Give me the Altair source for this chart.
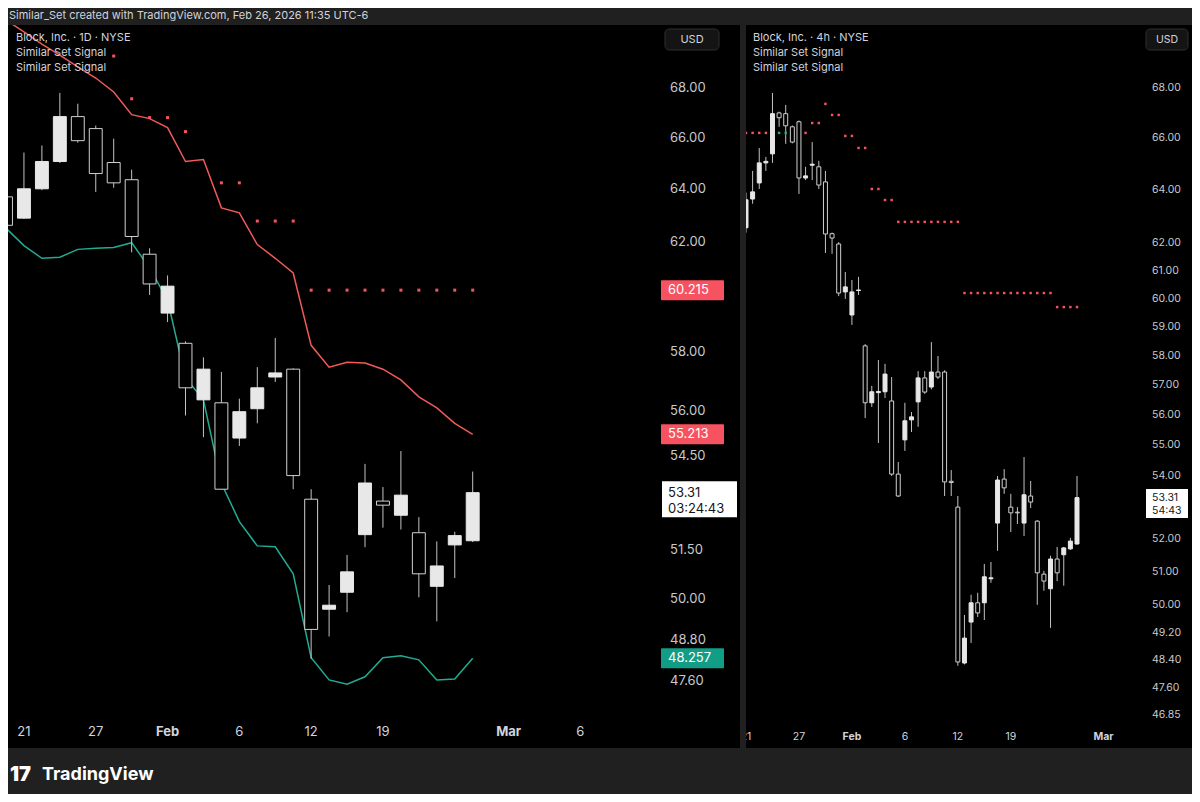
import math
import pandas as pd
import altair as alt

# ---------------- daily (1D) panel data : Jan 20 .. Feb 26 ----------------
d_open  = [63.69, 62.88, 64.00, 65.06, 66.84, 66.36, 65.02, 64.35, 61.53, 59.39,
           58.32, 56.37, 56.27, 55.09, 56.07, 57.15, 57.42, 53.10, 49.70, 50.21,
           51.98, 53.04, 52.59, 52.04, 50.39, 51.66, 51.79]
d_high  = [64.00, 65.41, 65.69, 67.80, 67.36, 66.48, 65.96, 64.74, 61.75, 60.75,
           58.39, 57.83, 57.32, 56.41, 57.49, 58.51, 57.45, 53.42, 50.43, 51.35,
           54.24, 53.49, 54.66, 52.53, 51.77, 52.07, 53.99]
d_low   = [62.45, 62.85, 63.95, 65.00, 65.80, 63.88, 64.04, 61.60, 60.04, 59.07,
           55.84, 55.12, 53.40, 54.83, 55.58, 56.98, 53.42, 48.24, 48.89, 49.61,
           51.59, 52.20, 52.14, 50.06, 49.34, 50.64, 51.75]
d_close = [62.61, 64.00, 65.06, 66.84, 65.88, 64.59, 64.23, 62.19, 60.44, 60.36,
           56.78, 57.42, 53.42, 55.97, 56.78, 57.29, 53.86, 49.10, 49.82, 50.83,
           53.62, 52.91, 53.23, 50.77, 51.01, 51.95, 53.31]
d_upper = [70.84, 70.33, 69.82, 69.36, 68.87, 68.41, 67.84, 66.92, 66.76, 66.40,
           65.06, 65.14, 63.27, 63.08, 61.89, 61.38, 60.84, 58.25, 57.49, 57.66,
           57.63, 57.42, 57.05, 56.47, 56.10, 55.58, 55.213]
d_lower = [62.50, 61.85, 61.38, 61.42, 61.71, 61.75, 61.78, 61.96, 61.02, 59.86,
           57.12, 56.37, 53.61, 52.39, 51.63, 51.60, 50.77, 48.27, 47.63, 47.51,
           47.72, 48.27, 48.33, 48.21, 47.63, 47.66, 48.257]
d_sig_idx = [6, 7, 8, 9, 10, 12, 13, 14, 15, 16,
             17, 18, 19, 20, 21, 22, 23, 24, 25, 26]
d_sig_val = [69.32, 67.56, 66.80, 66.80, 66.24, 64.23, 64.23, 62.77, 62.77, 62.77,
             60.215, 60.215, 60.215, 60.215, 60.215, 60.215, 60.215, 60.215, 60.215, 60.215]

# ---------------- 4h panel data : Jan 21 AM .. Feb 26 AM ----------------
h_open  = [62.58, 63.66, 64.27, 65.04, 65.39, 67.00, 66.97, 66.45, 66.65, 64.46,
           64.95, 64.89, 64.31, 62.36, 61.98, 60.24, 59.42, 60.29, 58.34, 56.40,
           56.74, 56.77, 56.46, 54.06, 55.17, 55.83, 56.43, 57.24, 56.93, 57.44,
           57.44, 53.83, 53.01, 48.32, 49.51, 50.08, 50.08, 50.80, 52.51, 53.90,
           53.01, 52.85, 52.51, 53.36, 52.57, 50.94, 50.50, 51.40, 51.53, 51.71, 51.86]
h_high  = [63.90, 64.73, 65.62, 65.27, 67.80, 67.05, 67.32, 66.50, 66.70, 64.89,
           65.85, 65.12, 64.73, 62.40, 62.05, 60.96, 60.67, 60.78, 58.40, 56.97,
           57.85, 57.72, 57.27, 54.45, 56.40, 56.09, 57.47, 57.47, 58.47, 57.99,
           57.50, 54.19, 53.36, 49.72, 50.32, 50.38, 51.25, 51.31, 54.00, 54.22,
           53.43, 53.01, 54.61, 53.84, 52.60, 51.04, 51.50, 51.77, 51.77, 52.05, 54.00]
h_low   = [62.40, 63.48, 64.04, 64.73, 65.04, 66.45, 65.78, 65.80, 63.85, 64.38,
           64.38, 64.04, 61.65, 61.62, 60.09, 59.99, 59.07, 60.13, 55.89, 56.26,
           55.07, 56.56, 54.00, 53.33, 54.81, 55.43, 55.60, 56.70, 56.85, 57.20,
           53.36, 53.36, 48.24, 48.28, 48.90, 49.66, 49.57, 50.68, 51.65, 53.43,
           52.23, 52.48, 52.11, 52.98, 50.02, 50.44, 49.34, 50.73, 50.59, 51.68, 51.84]
h_close = [63.63, 63.93, 65.04, 65.10, 66.97, 66.81, 66.49, 65.85, 64.46, 64.54,
           64.99, 64.19, 62.35, 62.20, 60.20, 60.42, 60.24, 60.31, 56.40, 56.77,
           56.78, 57.37, 54.06, 53.36, 55.80, 55.93, 57.24, 56.76, 57.44, 57.27,
           53.81, 53.79, 48.35, 49.04, 50.08, 49.78, 50.86, 50.83, 53.87, 53.62,
           52.83, 52.83, 53.40, 53.17, 50.98, 50.73, 51.40, 50.98, 51.74, 51.95, 53.31]
h_sig_red_idx = [0, 1, 2, 3, 9, 10, 11, 12, 13, 14, 15, 16, 17, 18, 19, 20, 21, 22,
                 23, 24, 25, 26, 27, 28, 29, 30, 31, 32,
                 33, 34, 35, 36, 37, 38, 39, 40, 41, 42, 43, 44, 45, 46,
                 47, 48, 49, 50]
h_sig_red_val = [66.21, 66.21, 66.21, 66.21, 66.21, 66.60, 66.60, 67.36, 66.92, 66.92,
                 66.09, 66.09, 65.62, 65.62, 64.04, 64.04, 63.62, 63.62,
                 62.80, 62.80, 62.80, 62.80, 62.80, 62.80, 62.80, 62.80, 62.80, 62.80,
                 60.20, 60.20, 60.20, 60.20, 60.20, 60.20, 60.20, 60.20, 60.20, 60.20,
                 60.20, 60.20, 60.20, 60.20,
                 59.70, 59.70, 59.70, 59.70]
h_sig_green_idx = [5, 6]
h_sig_green_val = [66.21, 66.21]

# ---------------- axis labels ----------------
l_ticks = [68.00, 66.00, 64.00, 62.00, 60.00, 58.00, 56.00, 54.50, 51.50, 50.00, 48.80, 47.60]
r_ticks = [68.00, 66.00, 64.00, 62.00, 61.00, 60.00, 59.00, 58.00, 57.00, 56.00,
           55.00, 54.00, 52.00, 51.00, 50.00, 49.20, 48.40, 47.60, 46.85]
l_time_idx = [1, 5, 9, 13, 17, 21, 28, 32]
l_time_lab = ["21", "27", "Feb", "6", "12", "19", "Mar", "6"]
l_time_bold = [False, False, True, False, False, False, True, False]
r_time_idx = [0, 8, 16, 24, 32, 40, 54]
r_time_lab = ["21", "27", "Feb", "6", "12", "19", "Mar"]
r_time_bold = [False, False, True, False, False, False, True]

# price tags: value, text, colour
l_tags_val = [60.215, 55.213, 48.257]
l_tags_col = ["#f7525f", "#f7525f", "#129e86"]
last_price = 53.31
l_countdown = "03:24:43"
r_countdown = "54:43"

# ---------------- layout helpers ----------------
OFF = 8  # page margin
FONT = "Inter"
TXT = "#d1d4dc"
AX = "#c9c9c9"
RED = "#f7525f"
GREEN = "#22ab94"
UPF = "#e8e8e8"
DNS = "#d0d0d0"
WICK = "#c2c2c2"
BG = "#202020"


def px(v):
    return v - OFF


L_PX_PER = 17.95
R_PX_PER = 6.62
LX = alt.Scale(domain=[0, 36], range=[px(6), px(6 + L_PX_PER * 36)], nice=False, zero=False)
LY = alt.Scale(type="log", domain=[47.6, 68], range=[px(681), px(88)], nice=False)
RX = alt.Scale(domain=[0, 60], range=[px(746), px(746 + R_PX_PER * 60)], nice=False, zero=False)
RY = alt.Scale(type="log", domain=[46.85, 68], range=[px(715), px(88)], nice=False)
KL = (681 - 88) / math.log(68 / 47.6)
KR = (715 - 88) / math.log(68 / 46.85)

one = pd.DataFrame({"a": [0]})


def box(x1, x2, y1, y2, color, **kw):
    return alt.Chart(one).mark_rect(color=color, **kw).encode(
        x=alt.value(px(x1)), x2=alt.value(px(x2)),
        y=alt.value(px(y1)), y2=alt.value(px(y2)))


def label(x, y, text, size, color=TXT, weight="normal", align="left"):
    return alt.Chart(one).mark_text(
        align=align, baseline="middle", font=FONT, fontSize=size,
        color=color, fontWeight=weight).encode(
        x=alt.value(px(x)), y=alt.value(px(y)), text=alt.value(text))


def candles(o, h, l, c, xs, ys, half):
    df = pd.DataFrame({"i": list(range(len(o))), "open": o, "high": h, "low": l, "close": c})
    base = alt.Chart(df)
    wick = base.mark_rule(color=WICK, strokeWidth=1).encode(
        x=alt.X("i:Q", scale=xs, axis=None),
        y=alt.Y("low:Q", scale=ys, axis=None),
        y2="high:Q")
    body = base.transform_calculate(
        x1=f"datum.i - {half}", x2=f"datum.i + {half}",
        top="max(datum.open, datum.close)", bot="min(datum.open, datum.close)",
        dir="datum.close >= datum.open ? 'up' : 'down'",
    ).mark_rect(strokeWidth=1).encode(
        x=alt.X("x1:Q", scale=xs, axis=None), x2="x2:Q",
        y=alt.Y("bot:Q", scale=ys, axis=None), y2="top:Q",
        fill=alt.Fill("dir:N", scale=alt.Scale(domain=["up", "down"], range=[UPF, "#000000"]), legend=None),
        stroke=alt.Stroke("dir:N", scale=alt.Scale(domain=["up", "down"], range=[UPF, DNS]), legend=None))
    return [wick, body]


def line(vals, xs, ys, color):
    df = pd.DataFrame({"i": list(range(len(vals))), "v": vals})
    return alt.Chart(df).mark_line(color=color, strokeWidth=1.5).encode(
        x=alt.X("i:Q", scale=xs, axis=None), y=alt.Y("v:Q", scale=ys, axis=None))


def dots(idx, vals, xs, ys, color, size):
    df = pd.DataFrame({"i": idx, "v": vals})
    return alt.Chart(df).mark_square(color=color, size=size, opacity=1).encode(
        x=alt.X("i:Q", scale=xs, axis=None), y=alt.Y("v:Q", scale=ys, axis=None))


def price_axis(ticks, ys, x, size):
    df = pd.DataFrame({"v": ticks, "t": [f"{t:.2f}" for t in ticks]})
    return alt.Chart(df).mark_text(align="left", baseline="middle", font=FONT,
                                   fontSize=size, color=AX).encode(
        x=alt.value(px(x)), y=alt.Y("v:Q", scale=ys, axis=None), text="t:N")


def time_axis(idx, labs, bold, xs, y, size):
    df = pd.DataFrame({"i": idx, "t": labs, "b": ["bold" if b else "normal" for b in bold]})
    out = []
    for w in ["normal", "bold"]:
        out.append(alt.Chart(df).transform_filter(f"datum.b == '{w}'").mark_text(
            align="center", baseline="middle", font=FONT, fontSize=size, color=TXT,
            fontWeight=w).encode(
            x=alt.X("i:Q", scale=xs, axis=None), y=alt.value(px(y)), text="t:N"))
    return out


def tag(vals, cols, ys, K, x1, x2, up, down):
    df = pd.DataFrame({"v": vals, "c": cols, "t": [f"{v:.3f}" for v in vals]})
    r = alt.Chart(df).transform_calculate(
        top=f"datum.v * exp({up}/{K})", bot=f"datum.v * exp(-{down}/{K})"
    ).mark_rect(cornerRadius=1).encode(
        x=alt.value(px(x1)), x2=alt.value(px(x2)),
        y=alt.Y("bot:Q", scale=ys, axis=None), y2="top:Q",
        fill=alt.Fill("c:N", scale=None))
    t = alt.Chart(df).mark_text(align="left", baseline="middle", font=FONT, fontSize=13,
                                color="#ffffff").encode(
        x=alt.value(px(x1 + 7)), y=alt.Y("v:Q", scale=ys, axis=None), text="t:N")
    return [r, t]


def last_tag(val, ys, K, x1, x2, up, down, size, cd, dy2):
    df = pd.DataFrame({"v": [val], "t": [f"{val:.2f}"], "cd": [cd]})
    r = alt.Chart(df).transform_calculate(
        top=f"datum.v * exp({up}/{K})", bot=f"datum.v * exp(-{down}/{K})"
    ).mark_rect(color="#ffffff").encode(
        x=alt.value(px(x1)), x2=alt.value(px(x2)),
        y=alt.Y("bot:Q", scale=ys, axis=None), y2="top:Q")
    t1 = alt.Chart(df).mark_text(align="left", baseline="middle", font=FONT, fontSize=size,
                                 color="#131722").encode(
        x=alt.value(px(x1 + 6)), y=alt.Y("v:Q", scale=ys, axis=None), text="t:N")
    t2 = alt.Chart(df).mark_text(align="left", baseline="middle", font=FONT, fontSize=size,
                                 color="#131722", dy=dy2).encode(
        x=alt.value(px(x1 + 6)), y=alt.Y("v:Q", scale=ys, axis=None), text="cd:N")
    return [r, t1, t2]


layers = []
# panel backgrounds
layers.append(box(0, 740, 25, 748, "#000000"))
layers.append(box(746, 1192, 25, 748, "#000000"))

# left (1D) panel
layers.append(line(d_lower, LX, LY, GREEN))
layers.append(line(d_upper, LX, LY, "#f05a5a"))
layers += candles(d_open, d_high, d_low, d_close, LX, LY, 0.36)
layers.append(dots(d_sig_idx, d_sig_val, LX, LY, RED, 9))

# right (4h) panel
layers += candles(h_open, h_high, h_low, h_close, RX, RY, 0.3)
layers.append(dots(h_sig_red_idx, h_sig_red_val, RX, RY, RED, 6))
layers.append(dots(h_sig_green_idx, h_sig_green_val, RX, RY, GREEN, 6))

# covers (header band and divider between panels)
layers.append(box(0, 1200, 0, 25, BG))
layers.append(box(740, 746, 25, 748, BG))
layers.append(box(0, 1200, 748, 802, BG))

# price axes
layers.append(price_axis(l_ticks, LY, 670, 13))
layers.append(price_axis(r_ticks, RY, 1152, 10.5))
layers += time_axis(l_time_idx, l_time_lab, l_time_bold, LX, 732, 13)
layers += time_axis(r_time_idx, r_time_lab, r_time_bold, RX, 737, 10.5)
layers.append(box(740, 746, 700, 748, BG))

# price tags
layers += tag(l_tags_val, l_tags_col, LY, KL, 661, 724, 10, 10)
layers += last_tag(last_price, LY, KL, 662, 737, 11.5, 24.5, 13, l_countdown, 16)
layers += last_tag(last_price, RY, KR, 1146, 1188, 8.5, 20.5, 10.5, r_countdown, 13)

# USD boxes
layers.append(box(665, 719, 29, 50, "#141414", cornerRadius=4, stroke="#2e2e2e", strokeWidth=1))
layers.append(label(692, 39.5, "USD", 11, TXT, align="center"))
layers.append(box(1146, 1188, 29, 50, "#141414", cornerRadius=4, stroke="#2e2e2e", strokeWidth=1))
layers.append(label(1167, 39.5, "USD", 10.5, TXT, align="center"))

# legends
layers.append(label(16, 38, "Block, Inc. · 1D · NYSE", 11))
layers.append(label(16, 53, "Similar Set Signal", 11))
layers.append(label(16, 68, "Similar Set Signal", 11))
layers.append(label(753, 38, "Block, Inc. · 4h · NYSE", 11))
layers.append(label(753, 53, "Similar Set Signal", 11))
layers.append(label(753, 68, "Similar Set Signal", 11))

# header and footer
layers.append(label(9, 16, "Similar_Set created with TradingView.com, Feb 26, 2026 11:35 UTC-6", 11))
layers.append(label(10, 775, "17", 20, "#ffffff", weight=900))
layers.append(label(42, 775, "TradingView", 18, "#ffffff", weight="bold"))

chart = alt.layer(*layers).properties(
    width=1184, height=786, padding=0,
    autosize=alt.AutoSizeParams(type="none"),
    background=BG,
).resolve_scale(
    x="independent", y="independent", fill="independent", stroke="independent"
).configure_view(stroke=None)

chart.save("out.html", embed_options={"renderer": "svg", "actions": False})
